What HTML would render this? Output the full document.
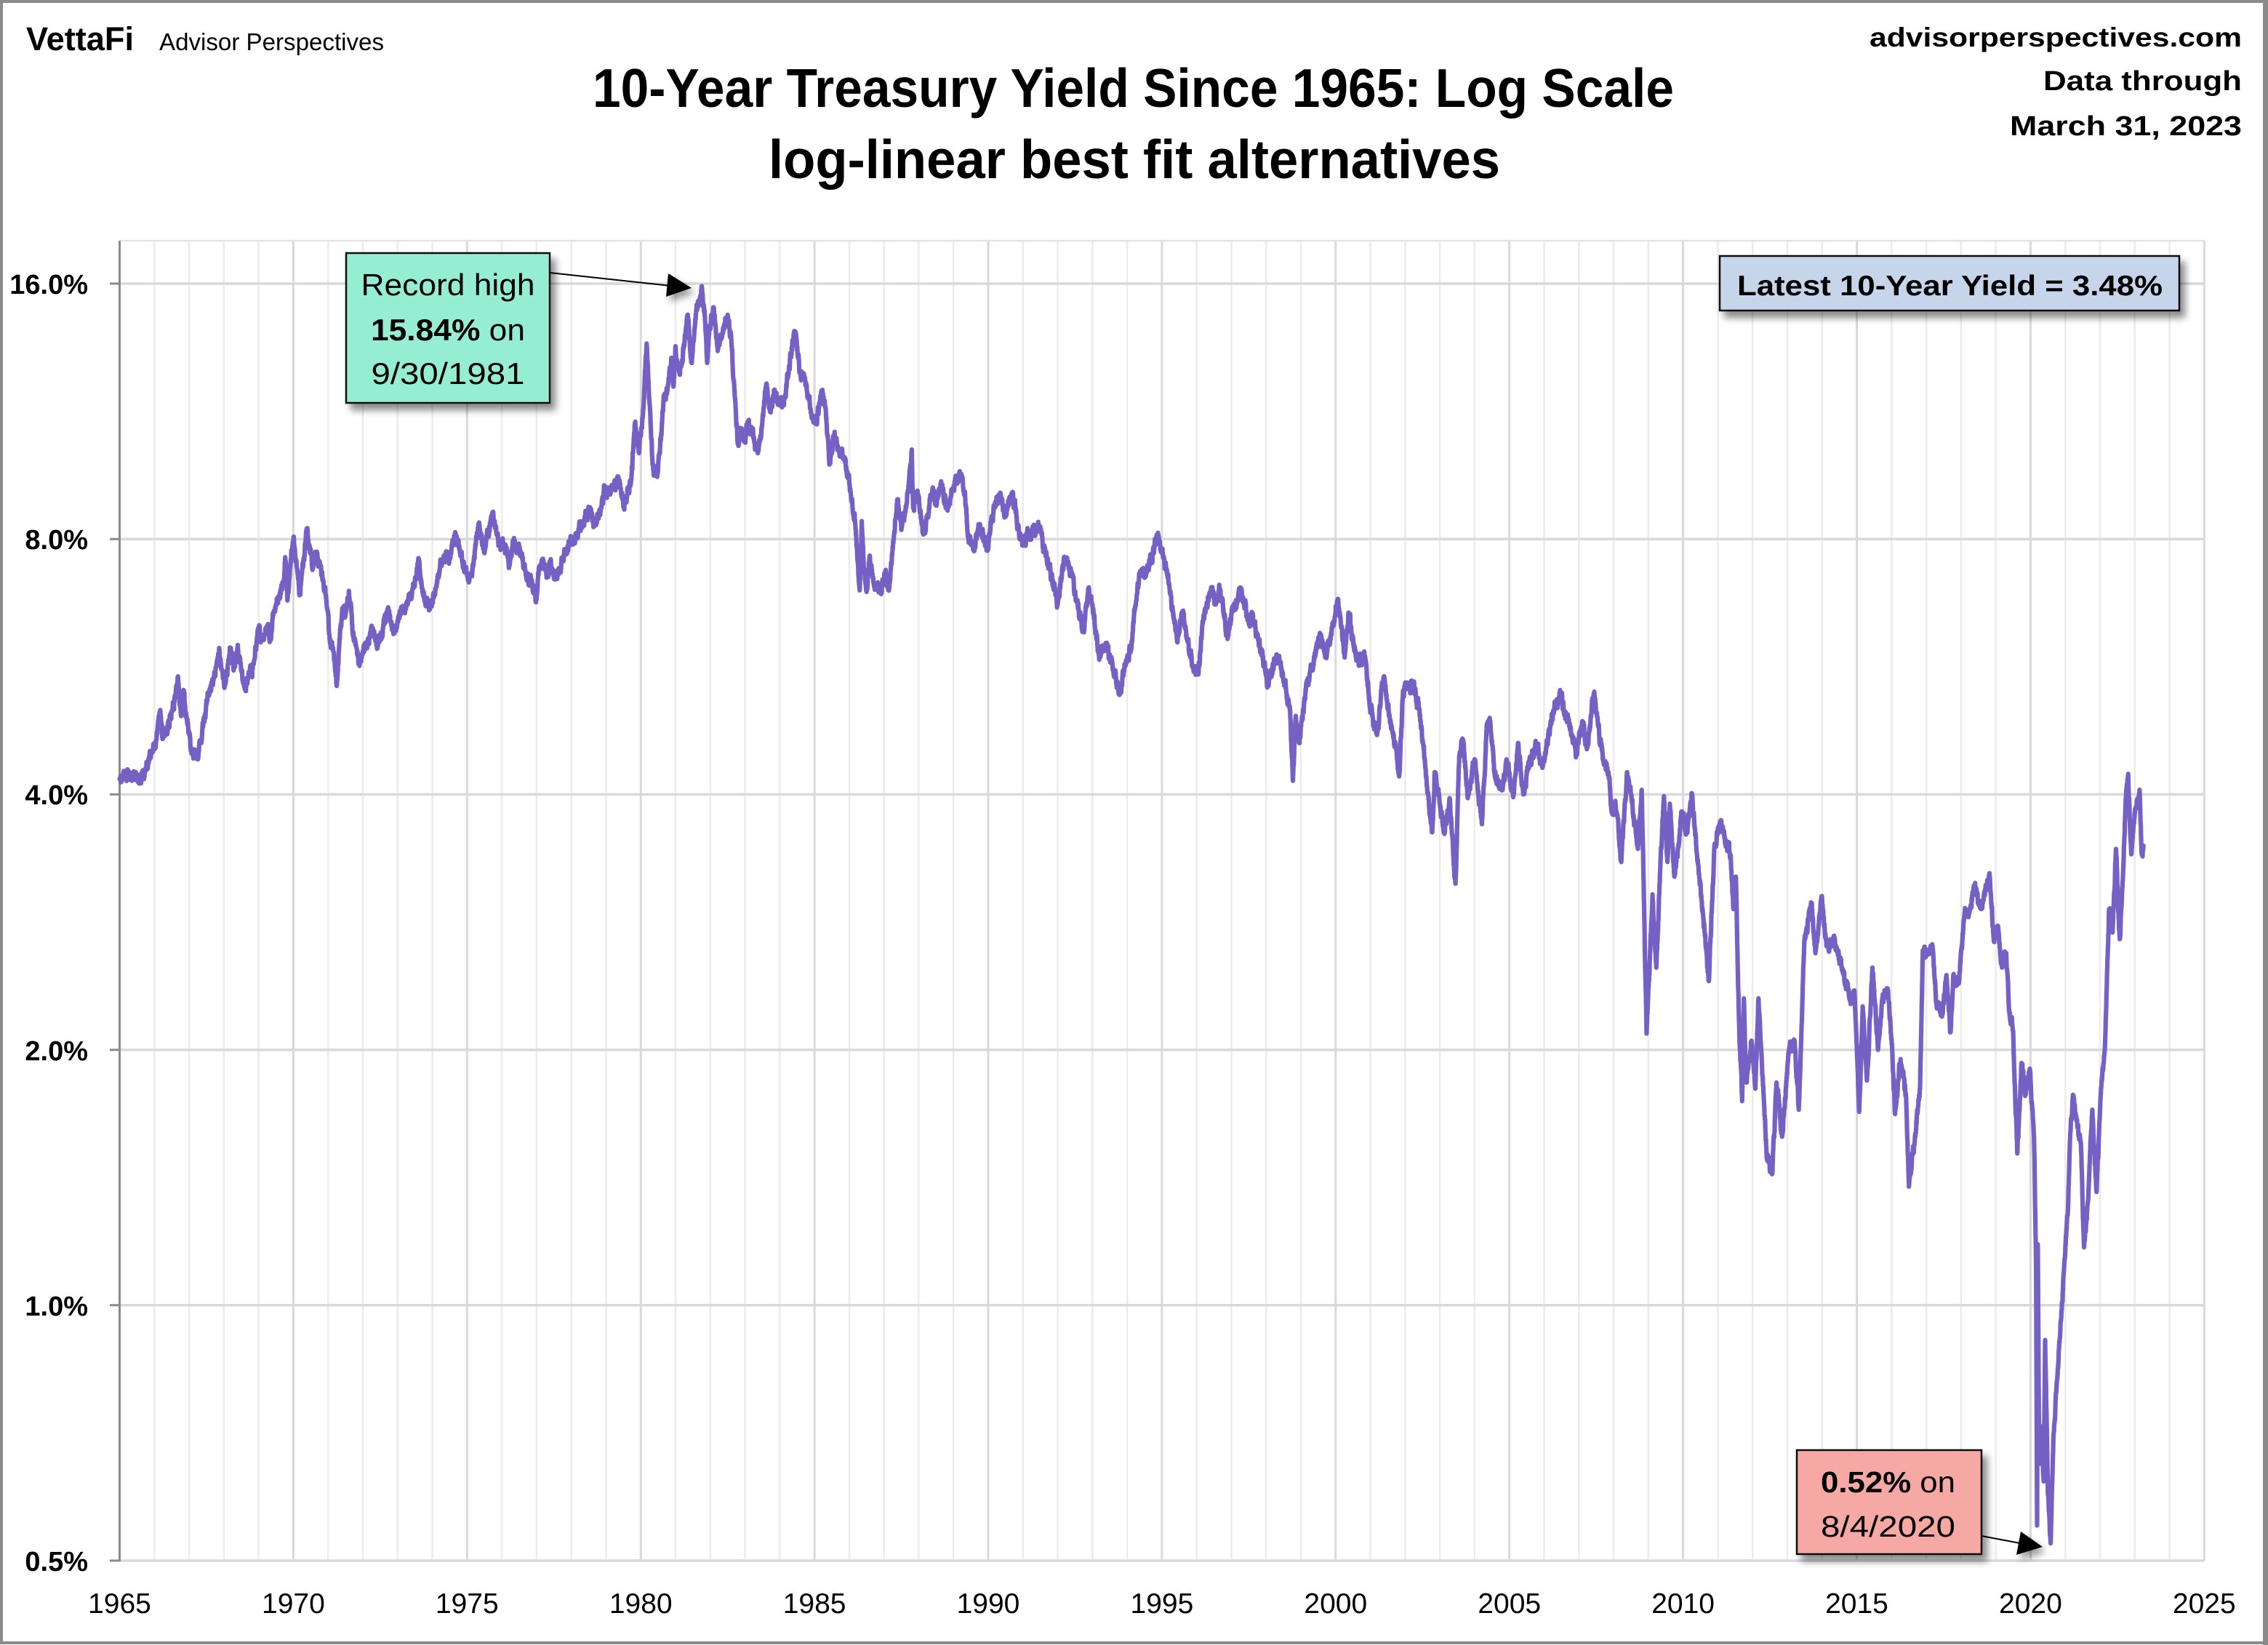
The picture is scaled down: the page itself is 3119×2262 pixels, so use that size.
<!DOCTYPE html>
<html>
<head>
<meta charset="utf-8">
<style>
html,body{margin:0;padding:0;background:#fff;}
svg{display:block;}
text{font-family:"Liberation Sans",Arial,sans-serif;fill:#000;}
</style>
</head>
<body>
<svg id="c" xmlns="http://www.w3.org/2000/svg" width="3119" height="2262" viewBox="0 0 3119 2262">
<defs>
<filter id="sh" x="-20%" y="-30%" width="150%" height="180%">
<feDropShadow dx="7" dy="9" stdDeviation="5" flood-color="#000" flood-opacity="0.45"/>
</filter>
<filter id="sh2" x="-50%" y="-50%" width="250%" height="250%">
<feDropShadow dx="5" dy="7" stdDeviation="5" flood-color="#000" flood-opacity="0.4"/>
</filter>
</defs>
<rect x="0" y="0" width="3119" height="2262" fill="#fff"/>

<path fill="none" stroke="#ececec" stroke-width="2.5" d="M212.3 331V2146M260.1 331V2146M307.8 331V2146M355.6 331V2146M451.2 331V2146M499 331V2146M546.7 331V2146M594.5 331V2146M690.1 331V2146M737.9 331V2146M785.6 331V2146M833.4 331V2146M929 331V2146M976.8 331V2146M1024.5 331V2146M1072.3 331V2146M1167.9 331V2146M1215.7 331V2146M1263.4 331V2146M1311.2 331V2146M1406.8 331V2146M1454.6 331V2146M1502.3 331V2146M1550.1 331V2146M1645.7 331V2146M1693.5 331V2146M1741.2 331V2146M1789 331V2146M1884.6 331V2146M1932.4 331V2146M1980.1 331V2146M2027.9 331V2146M2123.5 331V2146M2171.3 331V2146M2219 331V2146M2266.8 331V2146M2362.4 331V2146M2410.2 331V2146M2457.9 331V2146M2505.7 331V2146M2601.3 331V2146M2649.1 331V2146M2696.8 331V2146M2744.6 331V2146M2840.2 331V2146M2888 331V2146M2935.7 331V2146M2983.5 331V2146"/>
<path fill="none" stroke="#d9d9d9" stroke-width="3" d="M403.4 331V2146M642.3 331V2146M881.2 331V2146M1120.1 331V2146M1359 331V2146M1597.9 331V2146M1836.8 331V2146M2075.7 331V2146M2314.6 331V2146M2553.5 331V2146M2792.4 331V2146M3031.3 331V2146"/>
<path fill="none" stroke="#e3e3e3" stroke-width="2.5" d="M164.5 331H3031.3"/>
<path fill="none" stroke="#d9d9d9" stroke-width="3.5" d="M164.5 390H3031.3M164.5 741.2H3031.3M164.5 1092.4H3031.3M164.5 1443.6H3031.3M164.5 1794.8H3031.3M164.5 2146H3031.3"/>
<path fill="none" stroke="#8a8a8a" stroke-width="3" d="M164.5 331V2147.5M151 390H165M151 741.2H165M151 1092.4H165M151 1443.6H165M151 1794.8H165M151 2146H165"/>

<g font-weight="bold" font-size="38" text-anchor="end">
<text x="121" y="404">16.0%</text>
<text x="121" y="755">8.0%</text>
<text x="121" y="1106">4.0%</text>
<text x="121" y="1458">2.0%</text>
<text x="121" y="1809">1.0%</text>
<text x="121" y="2160">0.5%</text>
</g>
<g font-size="39" text-anchor="middle">
<text x="164.5" y="2218">1965</text>
<text x="403.4" y="2218">1970</text>
<text x="642.3" y="2218">1975</text>
<text x="881.2" y="2218">1980</text>
<text x="1120.1" y="2218">1985</text>
<text x="1359" y="2218">1990</text>
<text x="1597.9" y="2218">1995</text>
<text x="1836.8" y="2218">2000</text>
<text x="2075.7" y="2218">2005</text>
<text x="2314.6" y="2218">2010</text>
<text x="2553.5" y="2218">2015</text>
<text x="2792.4" y="2218">2020</text>
<text x="3031.3" y="2218">2025</text>
</g>

<path id="s" fill="none" stroke="#7561c4" stroke-width="6.2" stroke-linejoin="round" stroke-linecap="round" d=""/>

<text x="36" y="69" font-weight="bold" font-size="45" textLength="148" lengthAdjust="spacingAndGlyphs">VettaFi</text>
<text x="219" y="69" font-size="33" textLength="309" lengthAdjust="spacingAndGlyphs">Advisor Perspectives</text>
<text x="1558.5" y="147" font-weight="bold" font-size="75" text-anchor="middle" textLength="1487" lengthAdjust="spacingAndGlyphs">10-Year Treasury Yield Since 1965: Log Scale</text>
<text x="1560" y="245" font-weight="bold" font-size="75" text-anchor="middle" textLength="1006" lengthAdjust="spacingAndGlyphs">log-linear best fit alternatives</text>
<text x="3083" y="64" font-weight="bold" font-size="37" text-anchor="end" textLength="512" lengthAdjust="spacingAndGlyphs">advisorperspectives.com</text>
<text x="3083" y="124" font-weight="bold" font-size="38" text-anchor="end" textLength="273" lengthAdjust="spacingAndGlyphs">Data through</text>
<text x="3083" y="186" font-weight="bold" font-size="38" text-anchor="end" textLength="319" lengthAdjust="spacingAndGlyphs">March 31, 2023</text>

<path d="M756 375L922 393" stroke="#000" stroke-width="2" fill="none"/>
<polygon points="919,376 916,408 951,396" fill="#000" filter="url(#sh2)"/>
<rect x="476" y="348" width="280" height="206" fill="#96eed2" stroke="#111" stroke-width="2.5" filter="url(#sh)"/>
<text x="616" y="406" font-size="42" text-anchor="middle" textLength="239" lengthAdjust="spacingAndGlyphs">Record high</text>
<text x="616" y="468" font-size="42" text-anchor="middle" textLength="212" lengthAdjust="spacingAndGlyphs"><tspan font-weight="bold">15.84%</tspan> on</text>
<text x="616" y="528" font-size="42" text-anchor="middle" textLength="211" lengthAdjust="spacingAndGlyphs">9/30/1981</text>

<rect x="2365" y="352" width="632" height="75" fill="#c6d5ea" stroke="#111" stroke-width="2.5" filter="url(#sh)"/>
<text x="2681.5" y="406" font-weight="bold" font-size="39" text-anchor="middle" textLength="585" lengthAdjust="spacingAndGlyphs">Latest 10-Year Yield = 3.48%</text>

<path d="M2725 2112L2778 2122" stroke="#000" stroke-width="2" fill="none"/>
<polygon points="2779,2106 2773,2138 2809,2127" fill="#000" filter="url(#sh2)"/>
<rect x="2471" y="1994" width="254" height="143" fill="#f5a8a4" stroke="#111" stroke-width="2.5" filter="url(#sh)"/>
<text x="2596.5" y="2052" font-size="41" text-anchor="middle" textLength="185" lengthAdjust="spacingAndGlyphs"><tspan font-weight="bold">0.52%</tspan> on</text>
<text x="2596.5" y="2113" font-size="41" text-anchor="middle" textLength="185" lengthAdjust="spacingAndGlyphs">8/4/2020</text>

<rect x="2" y="2" width="3113" height="2257" fill="none" stroke="#8a8a8a" stroke-width="4"/>
<rect x="3112" y="0" width="7" height="2262" fill="#8a8a8a"/>
</svg>
<script>
(function(){
var K=[1965.00,4.17,1965.15,4.21,1965.30,4.18,1965.45,4.22,1965.60,4.18,1965.75,4.30,1965.92,4.47,1966.05,4.62,1966.17,5.03,1966.24,4.65,1966.35,4.80,1966.50,5.00,1966.60,5.20,1966.68,5.51,1966.73,5.10,1966.78,4.97,1966.85,5.30,1966.92,4.95,1967.07,4.47,1967.15,4.52,1967.24,4.40,1967.35,4.60,1967.44,4.87,1967.55,5.23,1967.70,5.45,1967.85,5.87,1967.95,5.60,1968.05,5.41,1968.12,5.70,1968.20,5.95,1968.28,5.60,1968.40,6.00,1968.50,5.60,1968.61,5.33,1968.70,5.50,1968.85,5.70,1969.01,6.29,1969.10,6.10,1969.27,6.35,1969.32,6.05,1969.43,6.56,1969.50,6.70,1969.58,6.83,1969.70,7.10,1969.78,7.53,1969.83,6.77,1969.92,7.50,1970.01,8.05,1970.10,7.40,1970.19,6.89,1970.30,7.60,1970.40,8.24,1970.48,7.70,1970.56,7.41,1970.65,7.70,1970.75,7.45,1970.90,7.00,1970.99,6.58,1971.04,6.17,1971.15,5.90,1971.25,5.37,1971.32,6.00,1971.41,6.63,1971.50,6.50,1971.60,6.95,1971.71,6.17,1971.80,6.00,1971.89,5.72,1972.00,5.90,1972.10,6.00,1972.20,6.15,1972.30,6.23,1972.40,6.00,1972.55,6.20,1972.72,6.63,1972.80,6.40,1972.90,6.20,1973.00,6.40,1973.13,6.55,1973.30,6.75,1973.43,6.98,1973.61,7.58,1973.70,7.00,1973.79,6.73,1973.97,6.68,1974.10,7.00,1974.25,7.50,1974.40,7.72,1974.50,7.60,1974.66,8.15,1974.80,7.70,1975.00,7.24,1975.10,7.22,1975.20,7.60,1975.33,8.34,1975.50,7.70,1975.60,8.10,1975.74,8.59,1975.92,7.85,1976.05,7.90,1976.22,7.46,1976.35,8.02,1976.45,7.75,1976.55,7.70,1976.68,7.33,1976.85,7.10,1977.00,6.80,1977.07,7.40,1977.20,7.50,1977.30,7.25,1977.40,7.50,1977.50,7.20,1977.65,7.35,1977.84,7.70,1978.09,8.05,1978.35,8.34,1978.55,8.68,1978.65,8.30,1978.85,8.70,1978.96,9.18,1979.10,9.10,1979.21,9.20,1979.37,9.40,1979.51,8.74,1979.60,8.95,1979.73,9.40,1979.84,11.0,1979.95,10.1,1980.06,11.2,1980.17,13.6,1980.22,12.3,1980.34,9.80,1980.47,9.47,1980.55,10.1,1980.68,11.85,1980.78,12.1,1980.88,13.08,1980.94,12.1,1981.00,13.5,1981.12,12.5,1981.25,13.5,1981.35,14.7,1981.46,12.9,1981.55,14.2,1981.63,14.96,1981.76,15.84,1981.85,14.5,1981.91,12.9,1981.98,14.2,1982.10,15.0,1982.20,13.5,1982.35,14.0,1982.50,14.7,1982.60,13.9,1982.68,12.3,1982.79,10.36,1982.90,10.8,1983.00,10.4,1983.10,11.0,1983.25,10.5,1983.37,10.1,1983.50,11.0,1983.62,12.2,1983.72,11.3,1983.85,12.0,1984.00,11.5,1984.15,11.8,1984.27,12.8,1984.41,14.0,1984.48,13.8,1984.58,12.6,1984.70,12.5,1984.83,11.77,1984.92,11.1,1985.05,11.0,1985.22,11.97,1985.32,11.4,1985.39,10.5,1985.44,9.8,1985.55,10.6,1985.70,10.2,1985.85,10.0,1985.97,9.52,1986.05,9.0,1986.17,8.39,1986.25,7.5,1986.30,6.96,1986.36,8.4,1986.42,7.4,1986.50,6.93,1986.58,7.6,1986.70,7.1,1986.90,6.97,1987.03,7.25,1987.15,7.0,1987.29,8.1,1987.38,8.9,1987.50,8.2,1987.65,8.8,1987.80,10.2,1987.84,8.7,1987.95,9.1,1988.13,8.1,1988.25,8.5,1988.41,9.2,1988.50,8.8,1988.63,9.3,1988.80,8.7,1989.00,9.2,1989.22,9.5,1989.33,9.1,1989.41,8.1,1989.59,7.74,1989.75,8.3,1989.98,7.75,1990.10,8.5,1990.35,9.07,1990.50,8.5,1990.69,9.07,1990.85,8.3,1991.00,7.9,1991.25,8.2,1991.47,8.3,1991.60,7.8,1991.75,7.4,1992.00,6.7,1992.18,7.6,1992.30,7.5,1992.55,6.75,1992.75,6.22,1992.88,7.0,1993.00,6.7,1993.18,5.86,1993.40,6.0,1993.60,5.6,1993.78,5.25,1993.95,5.7,1994.10,5.9,1994.22,6.6,1994.36,7.3,1994.50,7.2,1994.70,7.6,1994.86,8.05,1995.00,7.7,1995.21,7.06,1995.44,6.05,1995.60,6.58,1995.72,6.1,1995.88,5.67,1996.05,5.54,1996.17,6.4,1996.45,7.02,1996.55,6.7,1996.67,6.98,1996.89,6.1,1997.06,6.65,1997.29,6.98,1997.45,6.5,1997.65,6.35,1997.85,5.9,1998.05,5.41,1998.30,5.85,1998.50,5.45,1998.69,5.02,1998.77,4.15,1998.85,4.95,1998.95,4.6,1999.17,5.41,1999.36,5.67,1999.45,6.0,1999.58,6.17,1999.70,5.8,1999.87,6.2,2000.06,6.8,2000.26,5.8,2000.37,6.55,2000.60,5.75,2000.85,5.8,2000.99,5.06,2001.19,4.7,2001.38,5.5,2001.55,4.95,2001.75,4.5,2001.83,4.2,2001.94,5.3,2002.22,5.41,2002.40,5.06,2002.58,4.3,2002.78,3.61,2002.85,4.25,2003.00,3.9,2003.12,3.6,2003.28,3.96,2003.45,3.14,2003.56,4.45,2003.68,4.6,2003.80,3.96,2004.00,4.4,2004.21,3.69,2004.35,4.84,2004.45,4.88,2004.57,4.24,2004.80,4.05,2004.92,4.4,2005.11,3.97,2005.25,4.6,2005.40,4.0,2005.58,4.4,2005.80,4.55,2005.95,4.3,2006.26,5.02,2006.48,5.24,2006.60,4.97,2006.76,4.8,2006.93,4.45,2007.10,4.88,2007.25,4.55,2007.43,5.26,2007.55,4.84,2007.71,4.38,2007.85,4.25,2007.94,3.82,2008.05,3.93,2008.22,3.33,2008.39,4.25,2008.50,4.0,2008.70,3.45,2008.81,4.05,2008.95,2.09,2009.12,3.05,2009.23,2.5,2009.35,3.33,2009.45,3.98,2009.55,3.33,2009.62,3.9,2009.75,3.2,2009.96,3.82,2010.10,3.6,2010.26,4.0,2010.40,3.4,2010.57,2.9,2010.74,2.41,2010.91,3.5,2011.08,3.7,2011.25,3.5,2011.37,3.39,2011.45,2.93,2011.52,3.2,2011.61,2.17,2011.70,1.74,2011.75,2.3,2011.82,1.83,2011.97,2.05,2012.08,1.8,2012.17,2.3,2012.25,2.0,2012.41,1.49,2012.57,1.43,2012.69,1.83,2012.85,1.58,2013.05,2.0,2013.21,2.05,2013.33,1.7,2013.41,2.13,2013.49,2.69,2013.69,2.98,2013.81,2.6,2013.99,3.03,2014.13,2.65,2014.37,2.7,2014.57,2.49,2014.81,2.29,2014.93,2.35,2015.07,1.69,2015.17,2.25,2015.29,1.84,2015.45,2.5,2015.61,2.0,2015.74,2.3,2015.90,2.35,2016.02,2.0,2016.10,1.68,2016.26,1.95,2016.42,1.76,2016.50,1.38,2016.66,1.55,2016.82,1.8,2016.90,2.62,2017.06,2.6,2017.18,2.65,2017.30,2.25,2017.46,2.2,2017.58,2.45,2017.70,2.1,2017.78,2.45,2017.94,2.4,2018.10,2.9,2018.26,2.93,2018.38,3.1,2018.58,2.93,2018.82,3.23,2018.94,2.7,2019.06,2.8,2019.18,2.5,2019.30,2.6,2019.38,2.23,2019.50,2.1,2019.62,1.51,2019.74,1.93,2019.86,1.77,2019.98,1.9,2020.10,1.58,2020.16,1.13,2020.19,0.55,2020.21,1.18,2020.25,0.65,2020.30,0.72,2020.38,0.62,2020.42,0.91,2020.50,0.6,2020.58,0.524,2020.66,0.7,2020.78,0.83,2020.88,0.96,2020.98,1.13,2021.08,1.3,2021.14,1.58,2021.22,1.77,2021.35,1.62,2021.45,1.55,2021.54,1.17,2021.66,1.33,2021.78,1.7,2021.90,1.36,2022.02,1.77,2022.14,2.0,2022.26,2.93,2022.36,2.75,2022.46,3.45,2022.57,2.7,2022.66,3.2,2022.74,3.95,2022.81,4.23,2022.90,3.4,2023.00,3.8,2023.14,4.05,2023.20,3.4,2023.25,3.48];
var seed=987654321;
function rnd(){seed=(Math.imul(seed,1664525)+1013904223)>>>0;return seed/4294967296;}
function lg(v){return Math.log(v/0.5)/Math.LN2;}
var d=[],nz=0;
for(var i=0;i<K.length-2;i+=2){
  var t0=K[i],L0=lg(K[i+1]),t1=K[i+2],L1=lg(K[i+3]);
  var n=Math.max(1,Math.round((t1-t0)/0.005));
  for(var j=(i===0?0:1);j<=n;j++){
    var f=j/n,t=t0+(t1-t0)*f,L=L0+(L1-L0)*f;
    nz=0.7*nz+0.032*(rnd()-0.5);
    var w=Math.min(1,Math.min(j,n-j)/3);
    L+=nz*w;
    var x=164.5+(t-1965)*47.78,y=2146-L*351.2;
    d.push((d.length?'L':'M')+x.toFixed(1)+' '+y.toFixed(1));
  }
}
document.getElementById('s').setAttribute('d',d.join(''));
})();
</script>
</body>
</html>
